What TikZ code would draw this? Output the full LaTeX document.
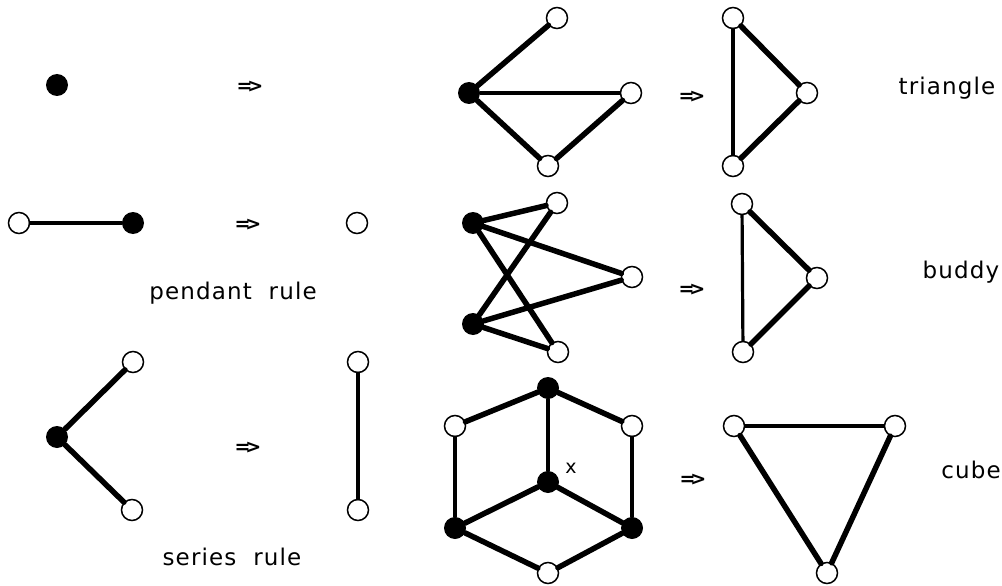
\documentclass[tikz,border=0pt]{standalone}
\usepackage{fontspec}
\setmainfont{DejaVu Sans}[LetterSpace=5]
\begin{document}
\begin{tikzpicture}[x=1pt,y=-1pt,
  wn/.style={circle,draw=black,line width=1.5pt,fill=white,minimum size=21pt,inner sep=0pt},
  bn/.style={circle,fill=black,minimum size=22pt,inner sep=0pt},
  thk/.style={line width=5.5pt,line cap=round},
  thn/.style={line width=3.2pt,line cap=round},
  lbl/.style={font=\fontsize{23}{25}\selectfont,inner sep=0pt},
  implies/.style={font=\fontsize{19}{19}\selectfont\bfseries\addfontfeature{LetterSpace=-28},inner sep=0pt}]
\useasboundingbox (0,0) rectangle (1002,586);
% ---------- row 1 ----------
\node[bn] (a1) at (57,85) {};
\node[implies] (i1) at (250,87) {=>};
% triangle left graph
\node[bn] (t0) at (469,93) {};
\node[wn] (t1) at (557,18) {};
\node[wn] (t2) at (631,93) {};
\node[wn] (t3) at (548,166) {};
\node[implies] (i2) at (692,97) {=>};
\node[wn] (u1) at (733,18) {};
\node[wn] (u2) at (807,93) {};
\node[wn] (u3) at (733,166) {};
\node[lbl] (l1) at (947,88) {triangle};
% ---------- row 2 ----------
\node[wn] (p1) at (19,223) {};
\node[bn] (p2) at (133,223) {};
\node[implies] (i3) at (248,225) {=>};
\node[wn] (p3) at (357,223) {};
\node[lbl] (l2) at (233,293) {pendant\ \ rule};
% buddy
\node[bn] (b1) at (473,223) {};
\node[bn] (b2) at (473,324) {};
\node[wn] (b3) at (557,203) {};
\node[wn] (b4) at (632,277) {};
\node[wn] (b5) at (558,352) {};
\node[implies] (i4) at (692,290) {=>};
\node[wn] (v1) at (742,204) {};
\node[wn] (v2) at (817,278) {};
\node[wn] (v3) at (743,352) {};
\node[lbl] (l3) at (961,272) {buddy};
% ---------- row 3 ----------
\node[wn] (s1) at (133,362) {};
\node[bn] (s2) at (57,437) {};
\node[wn] (s3) at (132,510) {};
\node[implies] (i5) at (248,448) {=>};
\node[wn] (s4) at (358,362) {};
\node[wn] (s5) at (358,510) {};
\node[lbl] (l4) at (232,557) {series\ \ rule};
% cube
\node[bn] (c1) at (548,388) {};
\node[wn] (c2) at (455,426) {};
\node[wn] (c3) at (632,426) {};
\node[bn] (c4) at (548,482) {};
\node[bn] (c5) at (455,528) {};
\node[bn] (c6) at (632,528) {};
\node[wn] (c7) at (548,573) {};
\node[font=\fontsize{19}{19}\selectfont,inner sep=0pt] (x) at (571,468) {x};
\node[implies] (i6) at (693,480) {=>};
\node[wn] (w1) at (734,426) {};
\node[wn] (w2) at (895,426) {};
\node[wn] (w3) at (827,573) {};
\node[lbl] (l5) at (971,470) {cube};
% ---------- edges ----------
\draw[thk] (t0) -- (t1);
\draw[line width=4.2pt] (t0) -- (t2);
\draw[thk] (t0) -- (t3);
\draw[thk] (t2) -- (t3);
\draw[thn] (u1) -- (u3);
\draw[thk] (u1) -- (u2);
\draw[thk] (u2) -- (u3);
\draw[thn] (p1) -- (p2);
\draw[thk] (b1) -- (b3);
\draw[thk] (b1) -- (b4);
\draw[thk] (b1) -- (b5);
\draw[thk] (b2) -- (b3);
\draw[thk] (b2) -- (b4);
\draw[thk] (b2) -- (b5);
\draw[thn] (v1) -- (v3);
\draw[thk] (v1) -- (v2);
\draw[thk] (v2) -- (v3);
\draw[thk] (s2) -- (s1);
\draw[thk] (s2) -- (s3);
\draw[thn] (s4) -- (s5);
\draw[thk] (c1) -- (c2);
\draw[thk] (c1) -- (c3);
\draw[thn] (c1) -- (c4);
\draw[thn] (c2) -- (c5);
\draw[thn] (c3) -- (c6);
\draw[thk] (c4) -- (c5);
\draw[thk] (c4) -- (c6);
\draw[thk] (c5) -- (c7);
\draw[thk] (c6) -- (c7);
\draw[line width=3.8pt] (w1) -- (w2);
\draw[thk] (w1) -- (w3);
\draw[thk] (w2) -- (w3);
\end{tikzpicture}
\end{document}
